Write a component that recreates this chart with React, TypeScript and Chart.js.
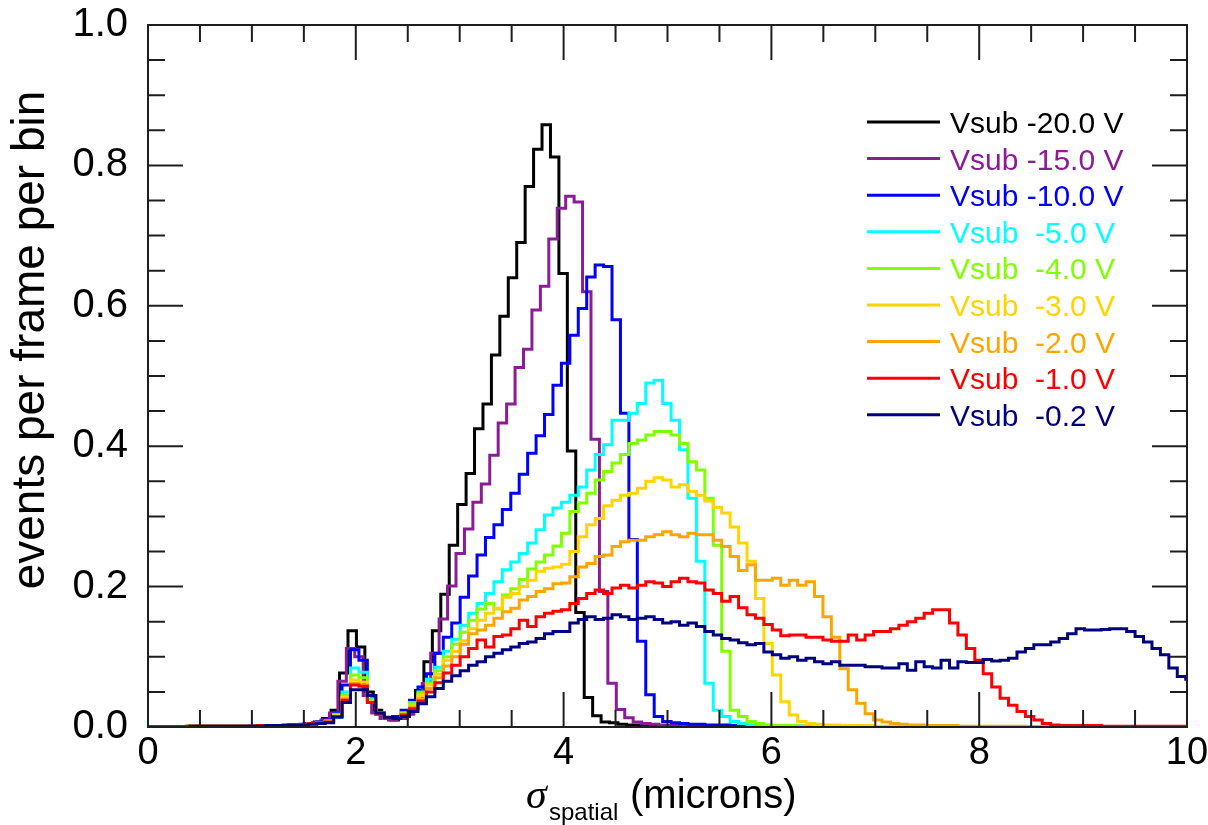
import React, { useEffect, useRef } from 'react';
import { Chart, registerables } from 'chart.js';

Chart.register(...registerables);

// ---- data ----
const BIN_WIDTH = 0.0812;
const SERIES_LABELS = [
  'Vsub -20.0 V',
  'Vsub -15.0 V',
  'Vsub -10.0 V',
  'Vsub  -5.0 V',
  'Vsub  -4.0 V',
  'Vsub  -3.0 V',
  'Vsub  -2.0 V',
  'Vsub  -1.0 V',
  'Vsub  -0.2 V',
];
const SERIES_COLORS = ['#000000', '#8b1c96', '#0000ff', '#00ffff', '#80ff00', '#ffd400', '#ffa500', '#ff0000', '#000080'];
const BIN_STARTS = [-0.024, -0.04, 0, 0, 0, 0, 0, 0, 0];

const vsub20 = [
  0, 0, 0, 0, 0, 0.001, 0.001, 0.001, 0.001, 0.001,
  0.001, 0.001, 0.001, 0.002, 0.002, 0.002, 0.002, 0.003, 0.003, 0.005,
  0.007, 0.012, 0.024, 0.077, 0.137, 0.114, 0.05, 0.024, 0.012, 0.01,
  0.012, 0.022, 0.052, 0.093, 0.137, 0.189, 0.259, 0.317, 0.361, 0.425,
  0.46, 0.53, 0.585, 0.64, 0.69, 0.77, 0.823, 0.858, 0.812, 0.646,
  0.393, 0.163, 0.042, 0.016, 0.007, 0.006, 0.004, 0.003, 0.003, 0.002,
  0.002, 0.001, 0.001, 0.001, 0.001, 0.001, 0.001, 0.001, 0.001, 0.001,
  0.001, 0, 0, 0, 0, 0, 0, 0, 0, 0,
  0, 0, 0, 0, 0, 0, 0, 0, 0, 0,
  0, 0, 0, 0, 0, 0, 0, 0, 0, 0,
  0, 0, 0, 0, 0, 0, 0, 0, 0, 0,
  0, 0, 0, 0, 0, 0, 0, 0, 0, 0,
  0, 0, 0, 0,
];
const vsub15 = [
  0, 0, 0, 0, 0, 0.001, 0.001, 0.001, 0.001, 0.001,
  0.001, 0.001, 0.001, 0.002, 0.002, 0.002, 0.002, 0.003, 0.003, 0.005,
  0.006, 0.01, 0.02, 0.065, 0.112, 0.1, 0.045, 0.02, 0.012, 0.01,
  0.012, 0.018, 0.035, 0.062, 0.105, 0.154, 0.201, 0.247, 0.282, 0.32,
  0.346, 0.387, 0.433, 0.46, 0.512, 0.538, 0.594, 0.628, 0.695, 0.739,
  0.756, 0.748, 0.62, 0.41, 0.193, 0.0625, 0.025, 0.013, 0.007, 0.005,
  0.004, 0.003, 0.002, 0.002, 0.002, 0.002, 0.002, 0.001, 0.001, 0.001,
  0.001, 0.001, 0.001, 0, 0, 0, 0, 0, 0, 0,
  0, 0, 0, 0, 0, 0, 0, 0, 0, 0,
  0, 0, 0, 0, 0, 0, 0, 0, 0, 0,
  0, 0, 0, 0, 0, 0, 0, 0, 0, 0,
  0, 0, 0, 0, 0, 0, 0, 0, 0, 0,
  0, 0, 0, 0,
];
const vsub10 = [
  0, 0, 0, 0, 0, 0.001, 0.001, 0.001, 0.001, 0.001,
  0.001, 0.001, 0.002, 0.002, 0.002, 0.002, 0.003, 0.003, 0.004, 0.005,
  0.007, 0.01, 0.02, 0.06, 0.11, 0.095, 0.045, 0.02, 0.012, 0.015,
  0.024, 0.038, 0.057, 0.076, 0.105, 0.128, 0.148, 0.185, 0.215, 0.245,
  0.27, 0.288, 0.31, 0.333, 0.36, 0.39, 0.415, 0.445, 0.487, 0.518,
  0.558, 0.596, 0.641, 0.658, 0.656, 0.58, 0.447, 0.267, 0.122, 0.046,
  0.015, 0.008, 0.006, 0.005, 0.004, 0.004, 0.003, 0.003, 0.003, 0.002,
  0.002, 0.002, 0.002, 0.002, 0.001, 0.001, 0.001, 0.001, 0.001, 0.001,
  0.001, 0.001, 0, 0, 0, 0, 0, 0, 0, 0,
  0, 0, 0, 0, 0, 0, 0, 0, 0, 0,
  0, 0, 0, 0, 0, 0, 0, 0, 0, 0,
  0, 0, 0, 0, 0, 0, 0, 0, 0, 0,
  0, 0, 0, 0,
];
const vsub5 = [
  0, 0, 0, 0, 0, 0.001, 0.001, 0.001, 0.001, 0.001,
  0.001, 0.001, 0.001, 0.002, 0.002, 0.002, 0.002, 0.003, 0.003, 0.005,
  0.006, 0.009, 0.018, 0.05, 0.084, 0.078, 0.04, 0.02, 0.012, 0.012,
  0.02, 0.035, 0.05, 0.068, 0.085, 0.108, 0.125, 0.145, 0.162, 0.176,
  0.19, 0.207, 0.224, 0.235, 0.247, 0.262, 0.281, 0.302, 0.312, 0.32,
  0.33, 0.342, 0.366, 0.388, 0.402, 0.437, 0.437, 0.447, 0.461, 0.49,
  0.494, 0.461, 0.437, 0.395, 0.326, 0.236, 0.0625, 0.024, 0.015, 0.008,
  0.005, 0.003, 0.002, 0.002, 0.001, 0.001, 0.001, 0.001, 0.001, 0.001,
  0, 0, 0, 0, 0, 0, 0, 0, 0, 0,
  0, 0, 0, 0, 0, 0, 0, 0, 0, 0,
  0, 0, 0, 0, 0, 0, 0, 0, 0, 0,
  0, 0, 0, 0, 0, 0, 0, 0, 0, 0,
  0, 0, 0, 0,
];
const vsub4 = [
  0, 0, 0, 0, 0, 0.001, 0.001, 0.001, 0.001, 0.001,
  0.001, 0.001, 0.001, 0.002, 0.002, 0.002, 0.002, 0.003, 0.003, 0.005,
  0.006, 0.008, 0.017, 0.045, 0.074, 0.07, 0.038, 0.02, 0.012, 0.012,
  0.02, 0.033, 0.048, 0.063, 0.08, 0.1, 0.118, 0.135, 0.152, 0.168,
  0.176, 0.168, 0.188, 0.197, 0.21, 0.225, 0.235, 0.245, 0.258, 0.276,
  0.307, 0.319, 0.333, 0.352, 0.364, 0.376, 0.388, 0.404, 0.409, 0.416,
  0.421, 0.421, 0.416, 0.404, 0.378, 0.366, 0.326, 0.259, 0.108, 0.024,
  0.015, 0.008, 0.005, 0.003, 0.002, 0.002, 0.002, 0.001, 0.001, 0.001,
  0.001, 0.001, 0, 0, 0, 0, 0, 0, 0, 0,
  0, 0, 0, 0, 0, 0, 0, 0, 0, 0,
  0, 0, 0, 0, 0, 0, 0, 0, 0, 0,
  0, 0, 0, 0, 0, 0, 0, 0, 0, 0,
  0, 0, 0, 0,
];
const vsub3 = [
  0, 0, 0, 0, 0, 0.001, 0.001, 0.001, 0.001, 0.001,
  0.001, 0.001, 0.001, 0.002, 0.002, 0.002, 0.002, 0.003, 0.003, 0.005,
  0.006, 0.007, 0.016, 0.042, 0.067, 0.064, 0.036, 0.018, 0.012, 0.012,
  0.018, 0.03, 0.045, 0.06, 0.075, 0.095, 0.108, 0.123, 0.14, 0.152,
  0.162, 0.169, 0.185, 0.19, 0.2, 0.209, 0.222, 0.226, 0.228, 0.232,
  0.25, 0.271, 0.288, 0.297, 0.315, 0.323, 0.33, 0.333, 0.34, 0.35,
  0.355, 0.352, 0.342, 0.345, 0.336, 0.33, 0.322, 0.313, 0.305, 0.285,
  0.262, 0.236, 0.183, 0.119, 0.074, 0.036, 0.017, 0.008, 0.005, 0.004,
  0.003, 0.003, 0.002, 0.002, 0.002, 0.002, 0.001, 0.001, 0.001, 0.001,
  0.001, 0, 0, 0, 0, 0, 0, 0, 0, 0,
  0, 0, 0, 0, 0, 0, 0, 0, 0, 0,
  0, 0, 0, 0, 0, 0, 0, 0, 0, 0,
  0, 0, 0, 0,
];
const vsub2 = [
  0, 0, 0, 0, 0, 0.001, 0.001, 0.001, 0.001, 0.001,
  0.001, 0.001, 0.001, 0.002, 0.002, 0.002, 0.002, 0.003, 0.003, 0.005,
  0.006, 0.007, 0.015, 0.04, 0.062, 0.06, 0.035, 0.018, 0.012, 0.012,
  0.018, 0.028, 0.04, 0.055, 0.07, 0.087, 0.1, 0.118, 0.133, 0.138,
  0.145, 0.155, 0.164, 0.169, 0.181, 0.186, 0.193, 0.197, 0.204, 0.205,
  0.214, 0.228, 0.233, 0.243, 0.245, 0.257, 0.264, 0.266, 0.266, 0.271,
  0.274, 0.278, 0.274, 0.271, 0.276, 0.274, 0.274, 0.266, 0.257, 0.243,
  0.223, 0.231, 0.209, 0.209, 0.212, 0.202, 0.209, 0.202, 0.207, 0.186,
  0.157, 0.128, 0.083, 0.053, 0.034, 0.019, 0.01, 0.007, 0.005, 0.004,
  0.003, 0.003, 0.002, 0.002, 0.002, 0.002, 0.001, 0.001, 0.001, 0.001,
  0.001, 0.001, 0.001, 0.001, 0, 0, 0, 0, 0, 0,
  0, 0, 0, 0, 0, 0, 0, 0, 0, 0,
  0, 0, 0, 0,
];
const vsub1 = [
  0, 0, 0, 0, 0, 0.001, 0.001, 0.001, 0.001, 0.001,
  0.001, 0.001, 0.001, 0.002, 0.002, 0.002, 0.002, 0.003, 0.003, 0.005,
  0.006, 0.007, 0.015, 0.038, 0.06, 0.058, 0.035, 0.018, 0.012, 0.012,
  0.017, 0.026, 0.037, 0.05, 0.063, 0.077, 0.088, 0.1, 0.112, 0.124,
  0.114, 0.129, 0.131, 0.14, 0.152, 0.143, 0.157, 0.162, 0.165, 0.167,
  0.176, 0.183, 0.19, 0.195, 0.19, 0.198, 0.202, 0.198, 0.202, 0.207,
  0.205, 0.2, 0.207, 0.212, 0.207, 0.205, 0.195, 0.19, 0.179, 0.186,
  0.17, 0.16, 0.155, 0.146, 0.138, 0.13, 0.131, 0.131, 0.128, 0.128,
  0.124, 0.122, 0.122, 0.131, 0.124, 0.131, 0.136, 0.136, 0.14, 0.145,
  0.15, 0.155, 0.162, 0.167, 0.167, 0.148, 0.131, 0.112, 0.095, 0.076,
  0.057, 0.041, 0.031, 0.022, 0.015, 0.01, 0.005, 0.003, 0.002, 0.002,
  0.002, 0.002, 0.002, 0.001, 0.001, 0.001, 0.001, 0.001, 0.001, 0.001,
  0.001, 0.001, 0.001, 0.001,
];
const vsub02 = [
  0, 0, 0, 0, 0, 0.001, 0.001, 0.001, 0.001, 0.001,
  0.001, 0.001, 0.001, 0.001, 0.002, 0.002, 0.002, 0.003, 0.003, 0.004,
  0.005, 0.006, 0.014, 0.035, 0.053, 0.053, 0.045, 0.02, 0.014, 0.012,
  0.015, 0.022, 0.033, 0.043, 0.055, 0.065, 0.073, 0.08, 0.088, 0.093,
  0.1, 0.105, 0.11, 0.114, 0.119, 0.121, 0.126, 0.133, 0.136, 0.136,
  0.148, 0.153, 0.157, 0.153, 0.155, 0.16, 0.157, 0.153, 0.155, 0.157,
  0.153, 0.148, 0.15, 0.145, 0.148, 0.143, 0.136, 0.131, 0.126, 0.124,
  0.12, 0.117, 0.119, 0.107, 0.103, 0.098, 0.1, 0.095, 0.098, 0.093,
  0.09, 0.093, 0.088, 0.088, 0.088, 0.086, 0.086, 0.084, 0.084, 0.09,
  0.081, 0.093, 0.086, 0.084, 0.095, 0.084, 0.093, 0.092, 0.092, 0.096,
  0.094, 0.095, 0.098, 0.107, 0.112, 0.117, 0.117, 0.121, 0.126, 0.133,
  0.14, 0.138, 0.138, 0.139, 0.14, 0.14, 0.136, 0.129, 0.121, 0.112,
  0.103, 0.084, 0.072, 0.068,
];
const SERIES_VALUES = [vsub20, vsub15, vsub10, vsub5, vsub4, vsub3, vsub2, vsub1, vsub02];

const X_TICK_VALUES = [0, 2, 4, 6, 8, 10];
const Y_TICK_VALUES = [0, 0.2, 0.4, 0.6, 0.8, 1.0];
const Y_TITLE = 'events per frame per bin';
const X_TITLE_SYMBOL = 'σ';
const X_TITLE_SUB = 'spatial';
const X_TITLE_UNIT = '(microns)';

const SANS = '"Liberation Sans", Arial, Helvetica, sans-serif';

function binPoints(values: number[], start: number) {
  const pts = values.map((v, k) => ({ x: start + BIN_WIDTH * k, y: v }));
  pts.push({ x: start + BIN_WIDTH * values.length, y: values[values.length - 1] });
  return pts;
}

const decorPlugin = {
  id: 'decor',
  afterDatasetsDraw(chart: any) {
    const { ctx, chartArea, scales } = chart;
    const { left, right, top, bottom } = chartArea;
    const xs = scales.x;
    const ys = scales.y;
    ctx.save();
    // ticks (inward, mirrored)
    ctx.strokeStyle = '#1e1e1e';
    ctx.lineWidth = 2;
    ctx.beginPath();
    for (let i = 0; i <= 20; i++) {
      const px = xs.getPixelForValue(i * 0.5);
      const len = i % 4 === 0 ? 35 : 17;
      ctx.moveTo(px, bottom);
      ctx.lineTo(px, bottom - len);
      ctx.moveTo(px, top);
      ctx.lineTo(px, top + len);
    }
    for (let i = 0; i <= 20; i++) {
      const py = ys.getPixelForValue(i * 0.05);
      const len = i % 4 === 0 ? 35 : 17;
      ctx.moveTo(left, py);
      ctx.lineTo(left + len, py);
      ctx.moveTo(right, py);
      ctx.lineTo(right - len, py);
    }
    ctx.stroke();
    ctx.strokeRect(left, top, right - left, bottom - top);

    // legend
    const lx0 = left + 719;
    const lx1 = left + 792;
    const tx = left + 802;
    const row0 = top + 97;
    const rowGap = 36.6;
    ctx.font = '30px ' + SANS;
    ctx.textAlign = 'left';
    ctx.textBaseline = 'alphabetic';
    SERIES_LABELS.forEach((label, i) => {
      const yRow = row0 + rowGap * i;
      ctx.strokeStyle = SERIES_COLORS[i];
      ctx.lineWidth = 3;
      ctx.beginPath();
      ctx.moveTo(lx0, yRow);
      ctx.lineTo(lx1, yRow);
      ctx.stroke();
      ctx.fillStyle = SERIES_COLORS[i];
      ctx.fillText(label, tx, yRow + 11);
    });

    // y title
    ctx.fillStyle = '#000';
    ctx.save();
    ctx.translate(31, 340);
    ctx.rotate(-Math.PI / 2);
    ctx.textAlign = 'center';
    ctx.textBaseline = 'middle';
    ctx.font = '46px ' + SANS;
    ctx.fillText(Y_TITLE, 0, 0);
    ctx.restore();

    // x title
    ctx.textAlign = 'left';
    ctx.textBaseline = 'alphabetic';
    ctx.font = 'italic 42px "Liberation Serif", "DejaVu Serif", serif';
    ctx.fillText(X_TITLE_SYMBOL, 526, 808);
    ctx.font = '24px ' + SANS;
    ctx.fillText(X_TITLE_SUB, 549, 820);
    ctx.font = '40px ' + SANS;
    ctx.fillText(X_TITLE_UNIT, 630, 808);
    ctx.restore();
  },
};

export default function App() {
  const ref = useRef<HTMLCanvasElement | null>(null);
  useEffect(() => {
    const canvas = ref.current;
    if (!canvas) return;
    const datasets = SERIES_VALUES.map((vals, i) => ({
      label: SERIES_LABELS[i],
      data: binPoints(vals, BIN_STARTS[i]),
      borderColor: SERIES_COLORS[i],
      backgroundColor: SERIES_COLORS[i],
      borderWidth: 3,
      pointRadius: 0,
      stepped: 'before' as const,
      fill: false,
      order: SERIES_VALUES.length - 1 - i,
    }));
    const chart = new Chart(canvas, {
      type: 'line',
      data: { datasets },
      options: {
        animation: false,
        responsive: false,
        devicePixelRatio: 1,
        events: [],
        layout: { padding: { left: 0, top: 25, right: 21, bottom: 0 } },
        plugins: { legend: { display: false }, tooltip: { enabled: false } },
        scales: {
          x: {
            type: 'linear',
            min: 0,
            max: 10,
            afterFit: (s: any) => {
              s.height = 98;
              s.paddingLeft = 0;
              s.paddingRight = 0;
              s.paddingTop = 0;
              s.paddingBottom = 0;
            },
            afterBuildTicks: (s: any) => {
              s.ticks = X_TICK_VALUES.map((v) => ({ value: v }));
            },
            ticks: {
              color: '#000',
              padding: 4,
              maxRotation: 0,
              autoSkip: false,
              font: { family: SANS, size: 38 },
              callback: (v: any) => String(v),
            },
            grid: { display: false, drawTicks: false },
            border: { display: false },
          },
          y: {
            type: 'linear',
            min: 0,
            max: 1,
            afterFit: (s: any) => {
              s.width = 148;
              s.paddingLeft = 0;
              s.paddingRight = 0;
              s.paddingTop = 0;
              s.paddingBottom = 0;
            },
            afterBuildTicks: (s: any) => {
              s.ticks = Y_TICK_VALUES.map((v) => ({ value: v }));
            },
            ticks: {
              color: '#000',
              padding: 20,
              autoSkip: false,
              font: { family: SANS, size: 40 },
              callback: (v: any) => Number(v).toFixed(1),
            },
            grid: { display: false, drawTicks: false },
            border: { display: false },
          },
        },
      },
      plugins: [decorPlugin],
    });
    return () => chart.destroy();
  }, []);
  return (
    <div style={{ position: 'absolute', left: 0, top: 0, width: 1208, height: 825, background: '#fff' }}>
      <canvas ref={ref} width={1208} height={825} style={{ display: 'block', width: 1208, height: 825 }} />
    </div>
  );
}
